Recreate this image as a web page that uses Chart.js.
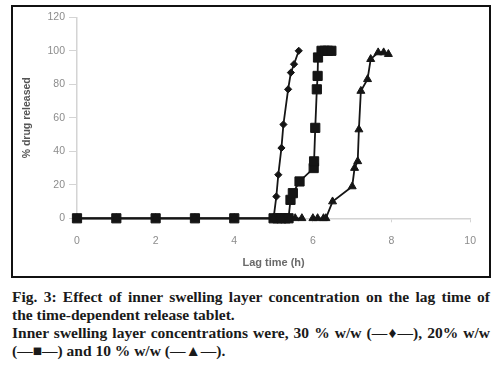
<!DOCTYPE html>
<html>
<head>
<meta charset="utf-8">
<script src="https://cdn.jsdelivr.net/npm/chart.js@4/dist/chart.umd.min.js"></script>
<style>
  html, body { margin: 0; padding: 0; background: #fff; width: 500px; height: 369px; overflow: hidden; }
  #box { position: absolute; left: 11px; top: 5px; width: 480px; height: 273px; box-sizing: border-box; border: 2px solid #111; }
  #wrap { position: absolute; left: 0; top: 0; width: 476px; height: 269px; }
  #cap { position: absolute; left: 12px; top: 288px; width: 478px; font-family: "Liberation Serif", serif; font-weight: bold; font-size: 15.5px; line-height: 18px; color: #1a1a1a; }
  .j { text-align: justify; text-align-last: justify; white-space: nowrap; }
  .l { text-align: left; white-space: nowrap; }
</style>
</head>
<body>
<div id="box"><div id="wrap"><canvas id="c"></canvas></div></div>
<div id="cap">
  <div class="j">Fig. 3: Effect of inner swelling layer concentration on the lag time of</div>
  <div class="l">the time-dependent release tablet.</div>
  <div class="j">Inner swelling layer concentrations were, 30 % w/w (—♦—), 20% w/w</div>
  <div class="l">(—■—) and 10 % w/w (—▲—).</div>
</div>
<script>
// Lag time (h) and % drug released for each inner swelling layer concentration
const time30 = [0, 1, 2, 3, 4, 5, 5.07, 5.12, 5.2, 5.25, 5.37, 5.44, 5.52, 5.64];
const rel30  = [0, 0, 0, 0, 0, 0, 13, 26, 42, 56, 77, 87, 92, 100];

const time20 = [0, 1, 2, 3, 4, 5, 5.1, 5.2, 5.3, 5.38, 5.43, 5.49, 5.66, 6.02, 6.03, 6.06, 6.1, 6.12, 6.13, 6.22, 6.3, 6.38, 6.47];
const rel20  = [0, 0, 0, 0, 0, 0, 0, 0, 0, 0, 11, 15, 22, 30, 34, 54, 77, 85, 96, 100, 100, 100, 100];

const time10 = [0, 1, 2, 3, 4, 5, 5.2, 5.4, 5.55, 5.72, 5.85, 6.0, 6.12, 6.27, 6.33, 6.5, 7.0, 7.06, 7.14, 7.17, 7.22, 7.39, 7.47, 7.66, 7.8, 7.92];
const rel10  = [0, 0, 0, 0, 0, 0, 0, 0, 0, 0, null, 0, 0, 0, 0, 10, 19, 30, 34, 53, 76, 83, 95, 99, 99, 98];

const xTicks = [0, 2, 4, 6, 8, 10];
const yTicks = [0, 20, 40, 60, 80, 100, 120];

const pts = (t, v) => t.map((x, i) => ({ x: x, y: v[i] }));
const axisGray = '#d4d4d4';
const tickGray = '#8c8c8c';

new Chart(document.getElementById('c'), {
  type: 'line',
  data: {
    datasets: [
      { label: '10 % w/w', data: pts(time10, rel10), borderColor: '#151515', backgroundColor: '#151515', clip: false,
        borderWidth: 1.8, pointStyle: 'triangle', pointRadius: 4.6, pointBorderWidth: 1, spanGaps: false },
      { label: '30 % w/w', data: pts(time30, rel30), borderColor: '#151515', backgroundColor: '#151515', clip: false,
        borderWidth: 1.8, pointStyle: 'rectRot', pointRadius: 3.6, pointBorderWidth: 1 },
      { label: '20 % w/w', data: pts(time20, rel20), borderColor: '#151515', backgroundColor: '#151515', clip: false,
        borderWidth: 1.8, pointStyle: 'rect', pointRadius: 6.5, pointBorderWidth: 1 }
    ]
  },
  options: {
    responsive: true,
    maintainAspectRatio: false,
    animation: false,
    layout: { padding: { left: 0, right: 17, top: 8.5, bottom: 0 } },
    plugins: { legend: { display: false }, tooltip: { enabled: false } },
    elements: { line: { tension: 0 } },
    scales: {
      x: {
        type: 'linear', min: 0, max: 10,
        afterBuildTicks: s => { s.ticks = xTicks.map(v => ({ value: v })); },
        afterFit: s => { s.height = 57.7; },
        grid: { drawOnChartArea: false, color: axisGray, tickLength: 4 },
        border: { color: axisGray, width: 1.5 },
        ticks: { color: tickGray, font: { family: 'Liberation Sans', size: 10.5 }, padding: 13 },
        title: { display: true, text: 'Lag time (h)', color: '#6a6a6a',
                 font: { family: 'Liberation Sans', size: 11, weight: 'bold' }, padding: { top: 0, bottom: 6 } }
      },
      y: {
        min: 0, max: 120,
        afterBuildTicks: s => { s.ticks = yTicks.map(v => ({ value: v })); },
        afterFit: s => { s.width = 64; },
        grid: { drawOnChartArea: false, color: axisGray, tickLength: 8 },
        border: { color: axisGray, width: 1.5 },
        ticks: { color: tickGray, font: { family: 'Liberation Sans', size: 10.5 }, padding: 4 },
        title: { display: true, text: '% drug released', color: '#555',
                 font: { family: 'Liberation Sans', size: 10.5, weight: 'bold' }, padding: { top: 8, bottom: 0 } }
      }
    }
  }
});
</script>
</body>
</html>
